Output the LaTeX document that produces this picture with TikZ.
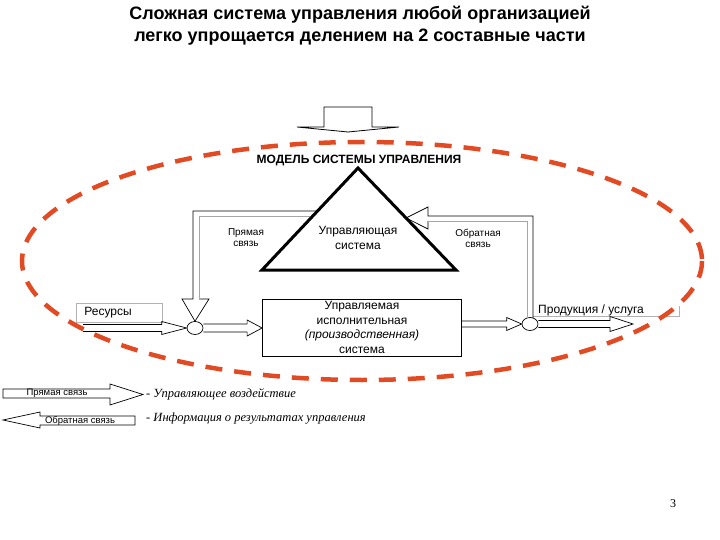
\documentclass[tikz,border=0pt]{standalone}
\usepackage{fontspec}
\setmainfont{Liberation Sans}
\newfontfamily\legendfont{Liberation Serif}
\usetikzlibrary{calc,positioning,shapes.geometric}
\definecolor{ringred}{RGB}{226,74,35}
\newcommand{\hollowright}[5]{%
  \path[hollow] let \p1=(#1), \p2=(#2) in
    (\x1,\y1+#3) -- (\x2-#5,\y1+#3) -- (\x2-#5,\y1+#4) -- (\x2,\y1)
    -- (\x2-#5,\y1-#4) -- (\x2-#5,\y1-#3) -- (\x1,\y1-#3);}

\begin{document}
\begin{tikzpicture}[
    x=1pt, y=-1pt,
    every node/.style={inner sep=0pt},
    heading/.style={font=\fontsize{18}{22}\selectfont\bfseries, align=center},
    txt/.style={font=\fontsize{12}{15}\selectfont, align=center},
    smalltxt/.style={font=\fontsize{10}{11.5}\selectfont, align=center},
    plantbox/.style={draw, line width=0.8pt, minimum width=199pt, minimum height=57pt,
        font=\fontsize{12}{14.5}\selectfont, align=center},
    graybox/.style={draw=gray!60, line width=0.8pt, minimum height=19pt, text width=70pt,
        inner xsep=8pt, align=left, font=\fontsize{12}{14}\selectfont},
    junction/.style={draw, ellipse, minimum width=16pt, minimum height=13pt, fill=white, line width=0.7pt},
    hollow/.style={draw, line width=0.7pt},
    innerline/.style={draw=gray!70, line width=0.9pt},
    dashring/.style={draw=ringred, line width=4.5pt, dash pattern=on 17pt off 12pt},
    legendarrow/.style={draw, line width=0.7pt, fill=white},
    legendlbl/.style={font=\fontsize{9.5}{11}\selectfont},
    legendtxt/.style={font=\legendfont\itshape\fontsize{12.5}{15}\selectfont, anchor=west}]
\useasboundingbox (0,0) rectangle (720,540);

\node[heading] (title) at (360,26) {Сложная система управления любой организацией\\легко упрощается делением на 2 составные части};

\coordinate (apex) at (358,168);
\coordinate (baseL) at (262,270);
\coordinate (baseR) at (456,270);
\coordinate (fbtip) at ($(apex)!0.49!(baseR)$);
\coordinate (resin) at (83,328);
\coordinate (prodtip) at (633,324);

\node[graybox, anchor=west] (res) at (76,312.5) {Ресурсы};
\path[draw=gray!60, line width=0.8pt] (533,316) -- (679,316) -- (679,306);
\node[txt, anchor=west] (prod) at (538,310) {Продукция / услуга};

\path[dashring] (362,261) ellipse [x radius=340, y radius=119];

\path[draw, line width=0.8pt, fill=white] (324,107) -- (372,107) -- (372,127) -- (399,127)
    -- (348,132) -- (297,127) -- (324,127) -- cycle;

\node[heading, font=\fontsize{12}{15}\selectfont\bfseries] (model) at (359,161) {МОДЕЛЬ СИСТЕМЫ УПРАВЛЕНИЯ};

\node[junction] (jin) at (195,328) {};
\node[junction] (jout) at (530,324) {};
\node[plantbox] (plant) at (362,327.5) {Управляемая\\исполнительная\\{\itshape (производственная)}\\система};

\path[hollow] (318,211) -- (193,211) -- (193,299) -- (182,299) -- (jin.north) -- (209,299) -- (199,299);
\path[innerline] (199,299) -- (199,216) -- (318,216);
\path[hollow] (533,318) -- (533,216) -- (428,216) -- (428,207) -- (fbtip) -- (428,229) -- (428,221);
\path[innerline] (428,221) -- (527,221) -- (527,318);

\path[draw, line width=3pt, fill=white, line join=miter] (apex) -- (baseL) -- (baseR) -- cycle;
\node[txt] (ctrl) at (358,237.5) {Управляющая\\система};
\node[smalltxt] (fwdlbl) at (246,237.5) {Прямая\\связь};
\node[smalltxt] (fblbl) at (478,238.5) {Обратная\\связь};

\hollowright{resin}{jin.west}{3.5pt}{6.5pt}{25pt}
\hollowright{jin.east}{plant.west}{4pt}{8pt}{15pt}
\hollowright{plant.east |- jout}{jout.west}{3pt}{6.5pt}{15pt}
\hollowright{jout.east}{prodtip}{3.5pt}{7.5pt}{23pt}

\path[legendarrow] (3,389) -- (110,389) -- (110,384) -- (143,394.5) -- (110,405) -- (110,398) -- (3,398) -- cycle;
\node[legendlbl] (legfwd) at (57,393.5) {Прямая связь};
\node[legendtxt] (legfwdtxt) at (146,394.5) {- Управляющее воздействие};
\path[legendarrow] (3,420) -- (40,412) -- (40,416) -- (135,416) -- (135,425) -- (40,425) -- (40,428) -- cycle;
\node[legendlbl] (legfb) at (80,420.5) {Обратная связь};
\node[legendtxt] (legfbtxt) at (146,418.5) {- Информация о результатах управления};

\node[font=\legendfont\fontsize{12}{14}\selectfont] (pagenum) at (673,504) {3};
\end{tikzpicture}
\end{document}
